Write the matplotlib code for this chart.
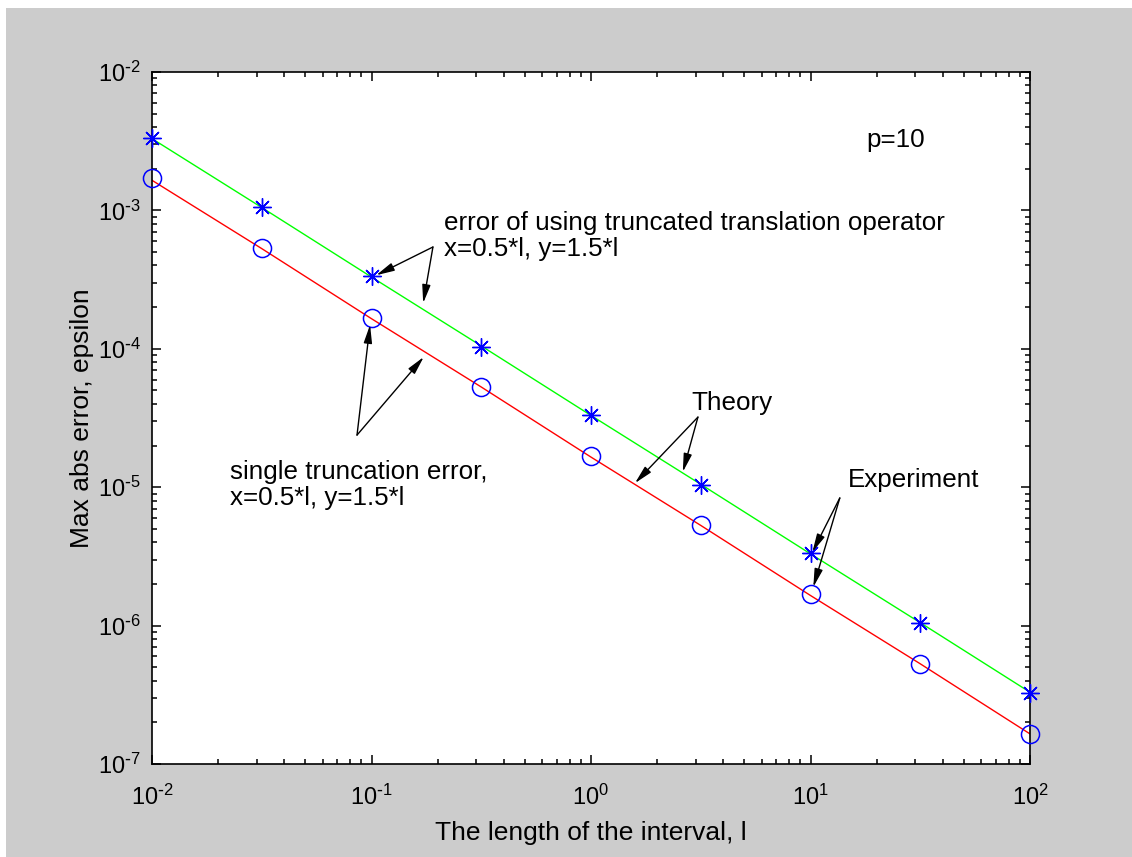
import numpy as np
import matplotlib
matplotlib.use("Agg")
import matplotlib.pyplot as plt
from matplotlib.patches import Rectangle
from matplotlib.ticker import FuncFormatter, NullFormatter

plt.rcParams['font.family'] = ['Liberation Sans', 'DejaVu Sans']
plt.rcParams['mathtext.default'] = 'regular'

# Data
interval_length = [0.01, 0.0316, 0.1, 0.316, 1.0, 3.16, 10.0, 31.6, 100.0]
theory_translation = [3.3e-3, 1.05e-3, 3.3e-4, 1.05e-4, 3.3e-5, 1.05e-5, 3.3e-6, 1.05e-6, 3.3e-7]
theory_single = [1.65e-3, 5.3e-4, 1.65e-4, 5.3e-5, 1.65e-5, 5.3e-6, 1.65e-6, 5.3e-7, 1.65e-7]
exp_translation = [3.33e-3, 1.06e-3, 3.36e-4, 1.03e-4, 3.3e-5, 1.04e-5, 3.35e-6, 1.05e-6, 3.26e-7]
exp_single = [1.71e-3, 5.35e-4, 1.67e-4, 5.3e-5, 1.68e-5, 5.33e-6, 1.7e-6, 5.28e-7, 1.65e-7]

W, H = 1132, 857
fig = plt.figure(figsize=(W / 100, H / 100), dpi=100, facecolor='#cccccc')
fig.patches.append(Rectangle((0, 1 - 8 / H), 1, 8 / H, transform=fig.transFigure,
                             facecolor='white', edgecolor='none', zorder=-1))
fig.patches.append(Rectangle((0, 0), 6 / W, 1, transform=fig.transFigure,
                             facecolor='white', edgecolor='none', zorder=-1))

left, right, top, bottom = 152, 1030, 72, 764
ax = fig.add_axes([left / W, 1 - bottom / H, (right - left) / W, (bottom - top) / H])
ax.set_facecolor('white')

ax.plot(interval_length, theory_translation, color='#00ff00', lw=1.0, zorder=2)
ax.plot(interval_length, theory_single, color='#ff0000', lw=1.0, zorder=2)
ax.plot(interval_length, exp_translation, linestyle='none', marker=(8, 2, 0), color='blue',
        markersize=13, markeredgewidth=1.0, zorder=3, clip_on=False)
ax.plot(interval_length, exp_single, linestyle='none', marker='o', markerfacecolor='none',
        markeredgecolor='blue', markersize=13, markeredgewidth=1.1, zorder=3, clip_on=False)

ax.set_xscale('log')
ax.set_yscale('log')
ax.set_xlim(1e-2, 1e2)
ax.set_ylim(1e-7, 1e-2)


def pow_fmt(v, pos):
    e = int(round(np.log10(v)))
    s = str(e).replace('-', r'\text{-}')
    return r'$10^{%s}$' % s


ax.xaxis.set_major_formatter(FuncFormatter(pow_fmt))
ax.yaxis.set_major_formatter(FuncFormatter(pow_fmt))
ax.xaxis.set_minor_formatter(NullFormatter())
ax.yaxis.set_minor_formatter(NullFormatter())

for s in ax.spines.values():
    s.set_linewidth(1.2)
    s.set_color('black')
ax.tick_params(which='both', direction='in', top=True, right=True, width=1.1, color='black')
ax.tick_params(which='major', length=6.5, labelsize=17)
ax.tick_params(which='minor', length=3.6)
ax.tick_params(axis='x', which='major', pad=15)
ax.tick_params(axis='y', which='major', pad=8)

ax.set_xlabel('The length of the interval, l', fontsize=19, va='center')
ax.set_ylabel('Max abs error, epsilon', fontsize=19, va='center')
ax.xaxis.set_label_coords(0.5, -(833 - bottom) / (bottom - top))
ax.yaxis.set_label_coords(-(left - 82) / (right - left), 0.5)

fs = 18.7
ax.text(17.9, 3.22e-3, 'p=10', fontsize=fs, va='center', ha='left')

arrow = dict(arrowstyle='-|>,head_length=1.1,head_width=0.25', color='black', lw=1.0,
             shrinkA=0, shrinkB=0)

ax.text(0.214, 6.53e-4, 'error of using truncated translation operator\nx=0.5*l, y=1.5*l',
        fontsize=fs, va='center', ha='left', linespacing=1.1)
ax.annotate('', xy=(0.105, 3.4e-4), xytext=(0.1905, 5.44e-4), arrowprops=arrow)
ax.annotate('', xy=(0.172, 2.14e-4), xytext=(0.1905, 5.44e-4), arrowprops=arrow)

ax.text(0.0227, 1.04e-5, 'single truncation error,\nx=0.5*l, y=1.5*l',
        fontsize=fs, va='center', ha='left', linespacing=1.1)
ax.annotate('', xy=(0.0985, 1.49e-4), xytext=(0.0859, 2.38e-5), arrowprops=arrow)
ax.annotate('', xy=(0.173, 8.73e-5), xytext=(0.0859, 2.38e-5), arrowprops=arrow)

ax.text(2.86, 4.06e-5, 'Theory', fontsize=fs, va='center', ha='left')
ax.annotate('', xy=(1.586, 1.07e-5), xytext=(3.07, 3.21e-5), arrowprops=arrow)
ax.annotate('', xy=(2.62, 1.29e-5), xytext=(3.07, 3.21e-5), arrowprops=arrow)

ax.text(14.8, 1.13e-5, 'Experiment', fontsize=fs, va='center', ha='left')
ax.annotate('', xy=(10.2, 3.40e-6), xytext=(13.6, 8.36e-6), arrowprops=arrow)
ax.annotate('', xy=(10.3, 1.90e-6), xytext=(13.6, 8.36e-6), arrowprops=arrow)

fig.savefig('out.png', dpi=100, facecolor=fig.get_facecolor())
